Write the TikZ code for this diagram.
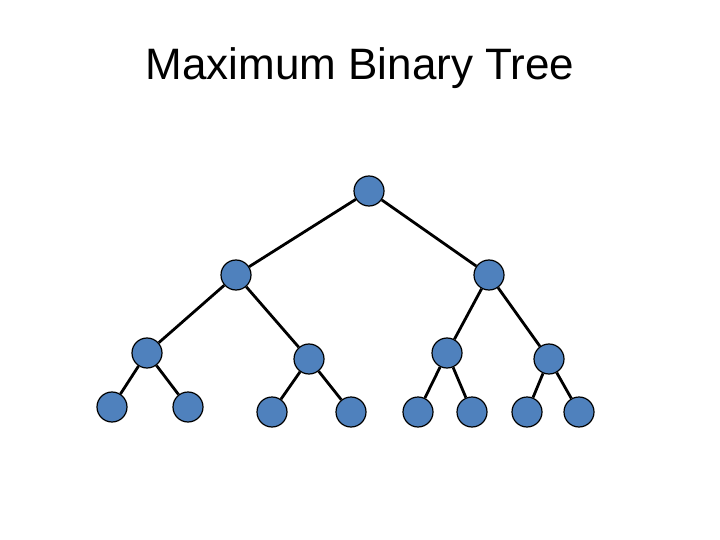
\documentclass[tikz,border=0pt]{standalone}
\usepackage{fontspec}
\setmainfont{Liberation Sans}
\definecolor{nodeblue}{HTML}{4F81BD}
\begin{document}
\begin{tikzpicture}[x=1pt,y=-1pt,
  tn/.style={circle,draw=black,line width=1.2pt,fill=nodeblue,minimum size=30pt,inner sep=0pt},
  edge/.style={line width=2.8pt}]
\useasboundingbox[fill=white] (0,0) rectangle (720,540);
\node (title) at (360,68) {\fontsize{44}{52}\selectfont Maximum Binary Tree};
\node[tn] (r) at (369,191) {};
\node[tn] (a) at (236,275) {};
\node[tn] (b) at (489,275) {};
\node[tn] (aa) at (147,353) {};
\node[tn] (ab) at (309,359) {};
\node[tn] (ba) at (447,353) {};
\node[tn] (bb) at (549,359) {};
\node[tn] (aaa) at (112,407) {};
\node[tn] (aab) at (188,407) {};
\node[tn] (aba) at (272,412) {};
\node[tn] (abb) at (351,412) {};
\node[tn] (baa) at (418,412) {};
\node[tn] (bab) at (472,412) {};
\node[tn] (bba) at (527,412) {};
\node[tn] (bbb) at (579,412) {};
\foreach \p/\c in {r/a,r/b,a/aa,a/ab,b/ba,b/bb,aa/aaa,aa/aab,ab/aba,ab/abb,ba/baa,ba/bab,bb/bba,bb/bbb}
  \draw[edge] (\p) -- (\c);
\end{tikzpicture}
\end{document}
